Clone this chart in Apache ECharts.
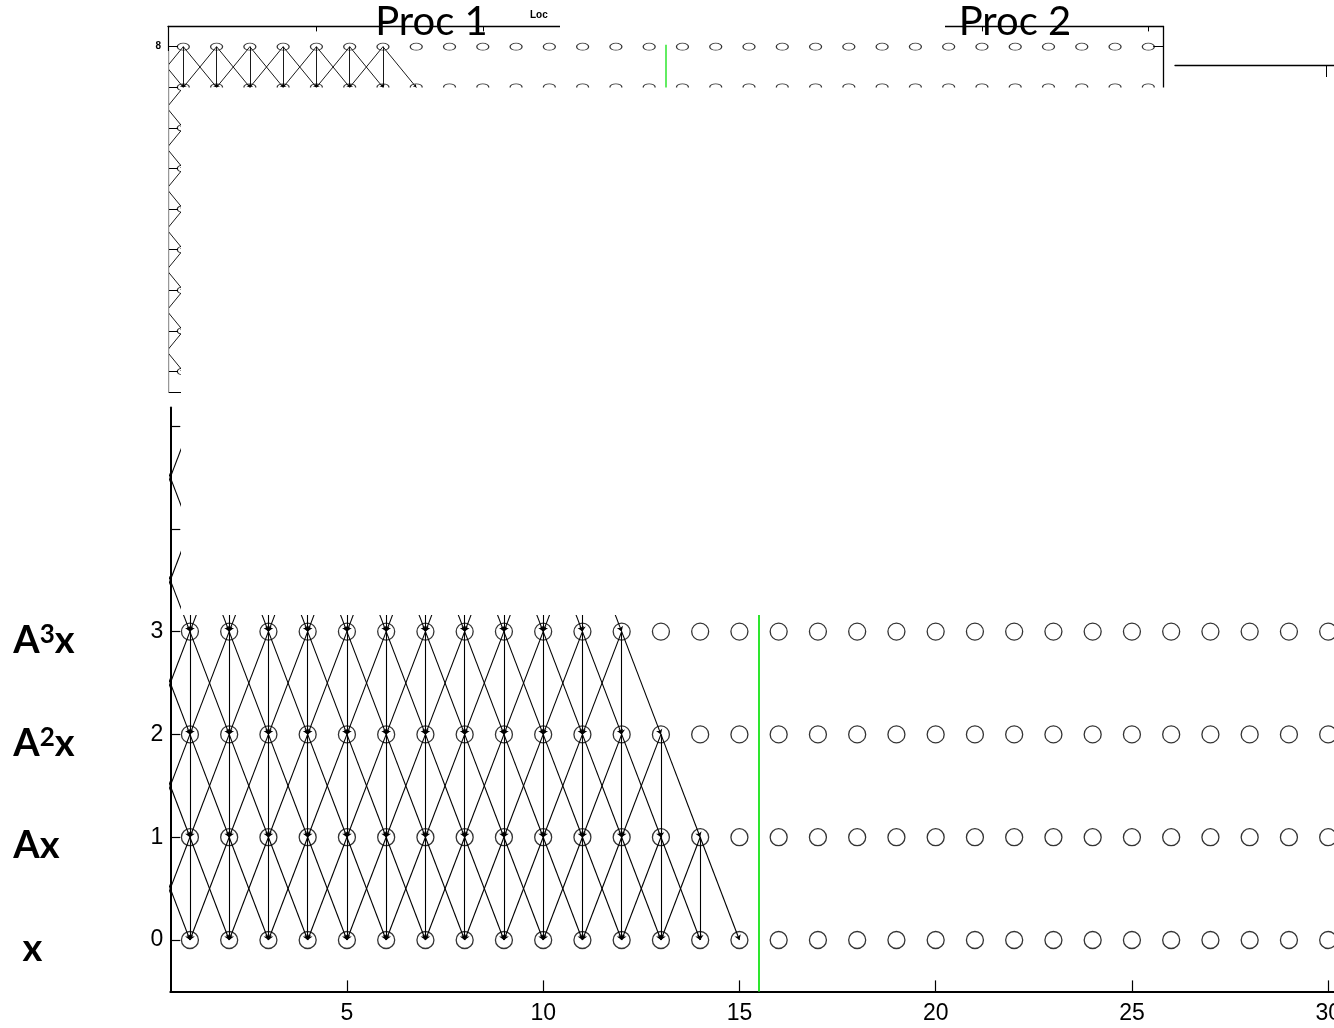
<!DOCTYPE html>
<html><head><meta charset="utf-8">
<script src="https://cdn.jsdelivr.net/npm/echarts@6/dist/echarts.min.js"></script>
<style>html,body{margin:0;padding:0;background:#fff}#c{width:1334px;height:1028px}</style>
</head><body><div id="c"></div>
<script>
// ---- data ----
const X_NODES = [1,2,3,4,5,6,7,8,9,10,11,12,13,14,15,16,17,18,19,20,21,22,23,24,25,26,27,28,29,30];
const MAIN_LEVELS = [0,1,2,3];
const TOP_LEVELS = [0,1,2,3,4,5,6,7,8];
// last x (inclusive, starting from 0) of the nodes at a level that send edges down one level
const MAIN_LAST_SOURCE = {1:14, 2:13, 3:12, 4:11, 5:10};
const TOP_LAST_SOURCE = {1:14, 2:13, 3:12, 4:11, 5:10, 6:9, 7:8, 8:7};
const EDGE_OFFSETS = [-1, 0, 1];
const BOUNDARY_X = 15.5;
const MAIN_Y_TICKS = [0,1,2,3,4,5];
const MAIN_Y_LABELS = [0,1,2,3];
const ROW_NAMES = [' x', 'Ax', 'A²x', 'A³x'];
const X_TICKS = [5,10,15,20,25,30];
const TOP_Y_TICKS = [0,1,2,3,4,5,6,7,8];
const TOP_Y_LABELS = [8];
const THIRD_X_TICKS = [35,40,45,50,55,60];
const PANEL_TITLES = ['Proc 1', 'Proc 2'];
const SMALL_TITLE = 'Loc';

// ---- build tables ----
function buildEdges(lastSource) {
  const out = [];
  Object.keys(lastSource).forEach(function (k) {
    const j = +k;
    for (let x = 0; x <= lastSource[k]; x++) {
      EDGE_OFFSETS.forEach(function (d) {
        out.push({coords: [[x, j], [x + d, j - 1]]});
      });
    }
  });
  return out;
}
function buildNodes(levels) {
  const out = [];
  levels.forEach(function (l) { X_NODES.forEach(function (x) { out.push([x, l]); }); });
  return out;
}
const SUP = {'²': '2', '³': '3'};
function richName(s) {
  let r = '';
  for (const ch of s) r += SUP[ch] ? '{s|' + SUP[ch] + '}' : '{b|' + ch + '}';
  return r;
}

const chart = echarts.init(document.getElementById('c'), null, {renderer: 'canvas'});
const black = '#000';
const green = '#2ee62e';
const FONT = 'Liberation Sans, Arial, sans-serif';

const option = {
  animation: false,
  backgroundColor: '#fff',
  grid: [
    {left: 170.3, top: 407.5, width: 1177.5, height: 583.9, outerBoundsMode: 'none', containLabel: false},
    {left: 168, top: 26.4, width: 995.3, height: 365.4, outerBoundsMode: 'none', containLabel: false},
    {left: 1175, top: 65, width: 998.4, height: 20, outerBoundsMode: 'none', containLabel: false}
  ],
  xAxis: [
    {gridIndex: 0, type: 'value', min: 0.5, max: 30.5, position: 'bottom',
     axisLine: {onZero: false, lineStyle: {color: black, width: 2}},
     axisTick: {inside: true, length: 11, customValues: X_TICKS, lineStyle: {color: black, width: 1.2}},
     axisLabel: {customValues: X_TICKS, color: black, fontSize: 23, fontFamily: FONT, margin: 11},
     splitLine: {show: false}},
    {gridIndex: 1, type: 'value', min: 0.54, max: 30.45, position: 'top',
     axisLine: {onZero: false, lineStyle: {color: black, width: 1.3}},
     axisTick: {inside: true, length: 5, customValues: X_TICKS, lineStyle: {color: black, width: 1}},
     axisLabel: {show: false}, splitLine: {show: false}},
    {gridIndex: 1, type: 'value', min: 0.54, max: 30.45, position: 'bottom',
     axisLine: {onZero: false, lineStyle: {color: black, width: 1.2}},
     axisTick: {show: false}, axisLabel: {show: false}, splitLine: {show: false}},
    {gridIndex: 2, type: 'value', min: 30.45, max: 60.45, position: 'top',
     axisLine: {onZero: false, lineStyle: {color: black, width: 1.3}},
     axisTick: {inside: true, length: 12, customValues: THIRD_X_TICKS, lineStyle: {color: black, width: 1}},
     axisLabel: {show: false}, splitLine: {show: false}}
  ],
  yAxis: [
    {gridIndex: 0, type: 'value', min: -0.5, max: 5.18, position: 'left',
     axisLine: {onZero: false, lineStyle: {color: black, width: 2}},
     axisTick: {inside: true, length: 10, customValues: MAIN_Y_TICKS, lineStyle: {color: black, width: 1.2}},
     axisLabel: {customValues: MAIN_Y_LABELS, color: black, fontSize: 23, fontFamily: FONT, margin: 7},
     splitLine: {show: false}},
    {gridIndex: 0, type: 'value', min: -0.5, max: 5.18, position: 'left',
     axisLine: {show: false}, axisTick: {show: false}, splitLine: {show: false},
     axisLabel: {customValues: MAIN_Y_LABELS, align: 'left', margin: 157, padding: [18, 0, 0, 0],
       formatter: function (v) { return richName(ROW_NAMES[Math.round(v)]); },
       rich: {
         b: {fontFamily: 'Lato', fontWeight: 'bold', fontSize: 38, color: black},
         s: {fontFamily: 'Lato', fontWeight: 'bold', fontSize: 26, color: black, verticalAlign: 'top'}
       }}},
    {gridIndex: 1, type: 'value', min: -0.5, max: 8.5, position: 'left',
     axisLine: {onZero: false, lineStyle: {color: black, width: 1.2}},
     axisTick: {inside: true, length: 10, customValues: TOP_Y_TICKS, lineStyle: {color: black, width: 1}},
     axisLabel: {customValues: TOP_Y_LABELS, color: black, fontSize: 10, fontWeight: 'bold', fontFamily: FONT, margin: 7},
     splitLine: {show: false}},
    {gridIndex: 1, type: 'value', min: -0.5, max: 8.5, position: 'right',
     axisLine: {onZero: false, lineStyle: {color: black, width: 1.3}},
     axisTick: {inside: true, length: 10, customValues: TOP_Y_LABELS, lineStyle: {color: black, width: 1}},
     axisLabel: {show: false}, splitLine: {show: false}},
    {gridIndex: 2, type: 'value', min: 0, max: 1, show: false}
  ],
  series: [
    {type: 'lines', coordinateSystem: 'cartesian2d', xAxisIndex: 0, yAxisIndex: 0, clip: true, silent: true,
     symbol: ['none', 'arrow'], symbolSize: 5,
     lineStyle: {color: black, width: 1.1, opacity: 1, curveness: 0},
     data: buildEdges(MAIN_LAST_SOURCE)},
    {type: 'scatter', xAxisIndex: 0, yAxisIndex: 0, silent: true, symbol: 'circle', symbolSize: 17,
     itemStyle: {color: 'rgba(0,0,0,0)', borderColor: black, borderWidth: 1.3},
     data: buildNodes(MAIN_LEVELS)},
    {type: 'lines', coordinateSystem: 'cartesian2d', xAxisIndex: 0, yAxisIndex: 0, clip: true, silent: true,
     symbol: 'none', lineStyle: {color: green, width: 2, opacity: 1},
     data: [{coords: [[BOUNDARY_X, -0.5], [BOUNDARY_X, 5.18]]}]},
    {type: 'lines', coordinateSystem: 'cartesian2d', xAxisIndex: 1, yAxisIndex: 2, clip: true, silent: true,
     symbol: ['none', 'arrow'], symbolSize: 3,
     lineStyle: {color: black, width: 0.9, opacity: 1, curveness: 0},
     data: buildEdges(TOP_LAST_SOURCE)},
    {type: 'scatter', xAxisIndex: 1, yAxisIndex: 2, silent: true, symbol: 'circle', symbolSize: [12, 7],
     itemStyle: {color: 'rgba(0,0,0,0)', borderColor: black, borderWidth: 1},
     data: buildNodes(TOP_LEVELS)},
    {type: 'lines', coordinateSystem: 'cartesian2d', xAxisIndex: 1, yAxisIndex: 2, clip: true, silent: true,
     symbol: 'none', lineStyle: {color: green, width: 1.5, opacity: 1},
     data: [{coords: [[BOUNDARY_X, -0.5], [BOUNDARY_X, 8.05]]}]}
  ],
  graphic: [
    {type: 'rect', z: 100, silent: true, shape: {x: 181, y: 87.5, width: 1153, height: 527.5}, style: {fill: '#fff'}},
    {type: 'rect', z: 100, silent: true, shape: {x: 0, y: 51, width: 168.6, height: 353}, style: {fill: '#fff'}},
    {type: 'rect', z: 100, silent: true, shape: {x: 560, y: 0, width: 385, height: 40}, style: {fill: '#fff'}},
    {type: 'text', z: 110, x: 431.5, y: 22, style: {text: PANEL_TITLES[0], fontFamily: 'Lato', fontSize: 40, fill: black, align: 'center', verticalAlign: 'middle'}},
    {type: 'text', z: 110, x: 1015, y: 22, style: {text: PANEL_TITLES[1], fontFamily: 'Lato', fontSize: 40, fill: black, align: 'center', verticalAlign: 'middle'}},
    {type: 'text', z: 110, x: 530, y: 15.5, style: {text: SMALL_TITLE, fontFamily: FONT, fontWeight: 'bold', fontSize: 10, fill: black, align: 'left', verticalAlign: 'middle'}}
  ]
};
chart.setOption(option);
</script>
</body></html>
